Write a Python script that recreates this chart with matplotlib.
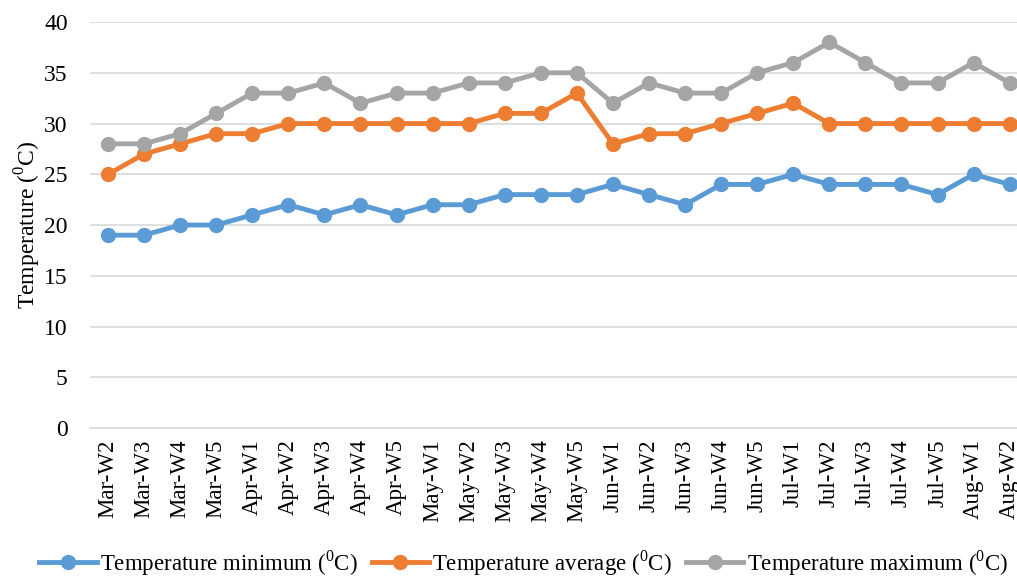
import matplotlib.pyplot as plt
import numpy as np

plt.rcParams['font.family'] = ['Liberation Serif', 'DejaVu Serif']
plt.rcParams['mathtext.fontset'] = 'custom'
plt.rcParams['mathtext.rm'] = 'Liberation Serif'

weeks = ['Mar-W2', 'Mar-W3', 'Mar-W4', 'Mar-W5', 'Apr-W1', 'Apr-W2', 'Apr-W3',
         'Apr-W4', 'Apr-W5', 'May-W1', 'May-W2', 'May-W3', 'May-W4', 'May-W5',
         'Jun-W1', 'Jun-W2', 'Jun-W3', 'Jun-W4', 'Jun-W5', 'Jul-W1', 'Jul-W2',
         'Jul-W3', 'Jul-W4', 'Jul-W5', 'Aug-W1', 'Aug-W2']
t_min = [19, 19, 20, 20, 21, 22, 21, 22, 21, 22, 22, 23, 23, 23, 24, 23, 22, 24,
         24, 25, 24, 24, 24, 23, 25, 24]
t_avg = [25, 27, 28, 29, 29, 30, 30, 30, 30, 30, 30, 31, 31, 33, 28, 29, 29, 30,
         31, 32, 30, 30, 30, 30, 30, 30]
t_max = [28, 28, 29, 31, 33, 33, 34, 32, 33, 33, 34, 34, 35, 35, 32, 34, 33, 33,
         35, 36, 38, 36, 34, 34, 36, 34]

deg = r'($^{\mathregular{0}}$C)'

fig = plt.figure(figsize=(10.17, 5.77), dpi=100)
ax = fig.add_axes([0.0885, 0.2582, 0.922, 0.7036])

x = np.arange(len(weeks))
series = [(t_min, '#5b9bd5', 'Temperature minimum ' + deg),
          (t_avg, '#ed7d31', 'Temperature average ' + deg),
          (t_max, '#a5a5a5', 'Temperature maximum ' + deg)]
for vals, col, lab in series:
    ax.plot(x, vals, color=col, lw=3.5, marker='o', ms=10, label=lab, zorder=3)

ax.set_xlim(-0.5, len(weeks) - 0.5)
ax.set_ylim(0, 40)
ax.set_yticks(range(0, 41, 5))
ax.set_xticks(x)
ax.set_xticklabels(weeks, rotation=90, fontsize=16.5)
ax.tick_params(axis='y', labelsize=17, length=0, pad=16)
ax.tick_params(axis='x', length=0, pad=8)
ax.grid(axis='y', color='#d9d9d9', lw=1.2)
ax.set_axisbelow(True)
for s in ['top', 'right', 'left']:
    ax.spines[s].set_visible(False)
ax.spines['bottom'].set_color('#d9d9d9')
ax.spines['bottom'].set_linewidth(1.2)
ax.set_ylabel('Temperature ' + deg, fontsize=17, labelpad=1)

fig.legend(loc='center', bbox_to_anchor=(0.515, 0.024), ncol=3, frameon=False,
           fontsize=16.5, handlelength=2.5, columnspacing=0.6, handletextpad=0.15,
           borderaxespad=0)

fig.savefig('out.png', dpi=100)
